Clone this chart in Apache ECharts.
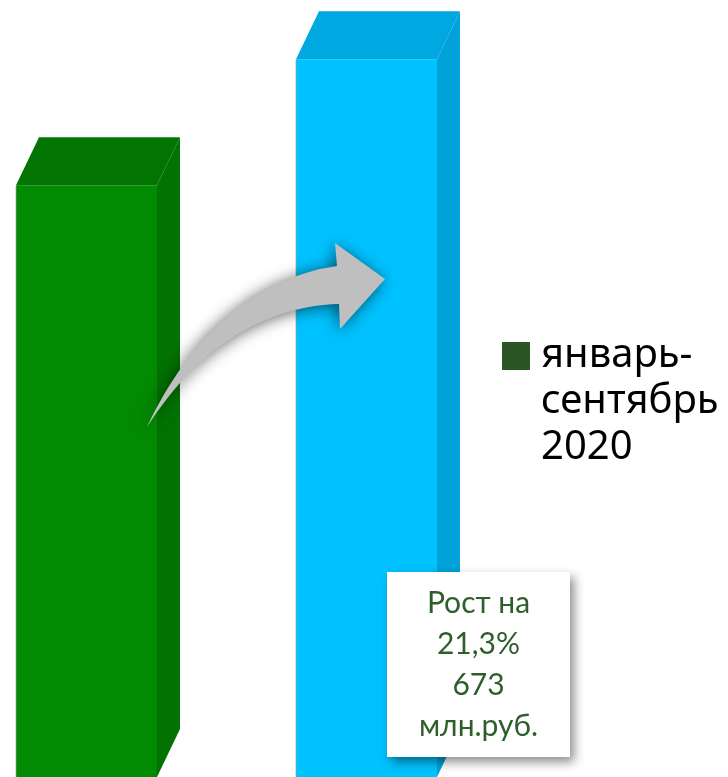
<!DOCTYPE html>
<html>
<head>
<meta charset="utf-8">
<script src="https://cdn.jsdelivr.net/npm/echarts@6/dist/echarts.min.js"></script>
<style>html,body{margin:0;padding:0;background:#fff}#c{width:728px;height:777px}</style>
</head>
<body>
<div id="c"></div>
<script>
// ---- data ----
const categories = ['январь-сентябрь 2019', 'январь-сентябрь 2020'];
const values = [3160, 3833];
const seriesName = 'январь-сентябрь 2020';
const legendLines = ['январь-', 'сентябрь', '2020'];
const noteLines = ['Рост на', '21,3%', '673', 'млн.руб.'];

// ---- styles ----
const faceColors = [
  { front: '#038a03', top: '#017401', side: '#027202' },
  { front: '#00c2ff', top: '#00a8e2', side: '#01a2da' }
];
const BAR_W = 141, DX = 23, DY = -48;

// decorative arrow outline (cubic curves sampled into a polygon)
function cubic(p0, p1, p2, p3, n) {
  const pts = [];
  for (let i = 0; i <= n; i++) {
    const t = i / n, u = 1 - t;
    pts.push([
      u*u*u*p0[0] + 3*u*u*t*p1[0] + 3*u*t*t*p2[0] + t*t*t*p3[0],
      u*u*u*p0[1] + 3*u*u*t*p1[1] + 3*u*t*t*p2[1] + t*t*t*p3[1]
    ]);
  }
  return pts;
}
const arrowPts = []
  .concat(cubic([147,427],[185,345],[250,278],[337,266], 30))
  .concat([[335,243],[385,279],[340,329]])
  .concat(cubic([339,304],[262,306],[196,350],[147,427], 30));

const chart = echarts.init(document.getElementById('c'), null, { renderer: 'canvas' });

chart.setOption({
  animation: false,
  grid: { left: 86.5, right: 361.5, top: 0, bottom: 0 },
  xAxis: { type: 'category', data: categories, boundaryGap: false, show: false },
  yAxis: { type: 'value', min: 0, max: 4150, show: false },
  legend: {
    data: [{ name: seriesName, itemStyle: { color: '#2c5526' } }],
    left: 502, top: 241, padding: 0,
    icon: 'rect', itemWidth: 28, itemHeight: 28, itemGap: 0,
    selectedMode: false,
    // two blank lines above keep the first text line level with the square
    formatter: function () { return '\n\n' + legendLines.join('\n'); },
    textStyle: {
      fontFamily: 'Noto Sans', fontSize: 40, lineHeight: 46, color: '#000',
      padding: [0, 0, 0, 6]
    }
  },
  series: [{
    type: 'custom',
    name: seriesName,
    itemStyle: { color: '#2c5526' },
    data: values.map((v, i) => [i, v]),
    encode: { x: 0, y: 1 },
    renderItem: function (params, api) {
      const idx = api.value(0);
      const topPt = api.coord([idx, api.value(1)]);
      const basePt = api.coord([idx, 0]);
      const cx = topPt[0], top = topPt[1], base = basePt[1];
      const l = cx - BAR_W / 2, r = cx + BAR_W / 2;
      const c = faceColors[params.dataIndex];
      return {
        type: 'group',
        children: [
          { type: 'polygon', shape: { points: [[r, top], [r + DX, top + DY], [r + DX, base + DY], [r, base]] },
            style: { fill: c.side } },
          { type: 'polygon', shape: { points: [[l, top], [l + DX, top + DY], [r + DX, top + DY], [r, top]] },
            style: { fill: c.top } },
          { type: 'rect', shape: { x: l, y: top, width: BAR_W, height: base - top },
            style: { fill: c.front } },
          { type: 'line', shape: { x1: l, y1: top, x2: l, y2: base },
            style: { stroke: 'rgba(160,160,160,0.7)', lineWidth: 1 } }
        ]
      };
    }
  }],
  graphic: [
    {
      type: 'polygon', z: 100,
      shape: { points: arrowPts },
      style: { fill: '#bfbfbf', shadowBlur: 16, shadowColor: 'rgba(0,0,0,0.6)', shadowOffsetX: -2, shadowOffsetY: 2 }
    },
    { type: 'rect', z: 100, shape: { x: 387, y: 572, width: 183, height: 185 },
      style: { fill: '#fff', shadowBlur: 10, shadowColor: 'rgba(0,0,0,0.45)', shadowOffsetX: 4, shadowOffsetY: 5 } },
    { type: 'text', z: 101, x: 478.5, y: 665,
      style: { text: noteLines.join('\n'), fontFamily: 'Lato', fontSize: 30, lineHeight: 41,
        fill: '#2e5e2b', align: 'center', verticalAlign: 'middle' } }
  ]
});
</script>
</body>
</html>
